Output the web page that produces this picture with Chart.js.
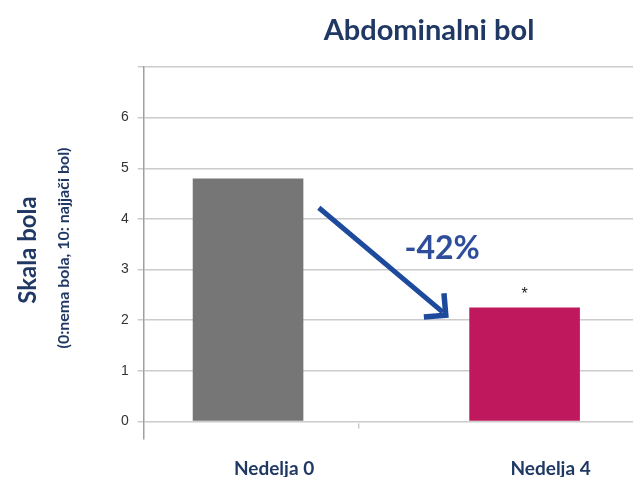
<!DOCTYPE html>
<html>
<head>
<meta charset="utf-8">
<script src="https://cdn.jsdelivr.net/npm/chart.js@4.4.0/dist/chart.umd.min.js"></script>
<style>
  html, body { margin: 0; padding: 0; background: #fff; }
  canvas { display: block; }
</style>
</head>
<body>
<canvas id="painChart" width="633" height="477"></canvas>
<script>
// Data
const weeks = ['Nedelja 0', 'Nedelja 4'];
const painScores = [4.8, 2.25];
const barColors = ['#767676', '#c0185c'];
const yTicks = [0, 1, 2, 3, 4, 5, 6, 7];

const titleText = 'Abdominalni bol';
const yTitle = 'Skala bola';
const ySubTitle = '(0:nema bola, 10: najjači bol)';
const changeLabel = '-42%';

const navy = '#1f3864';

// Extra drawing: title, axis titles, arrow, -42% and the asterisk
const annotations = {
  id: 'annotations',
  afterDraw(chart) {
    const ctx = chart.ctx;
    const x = chart.scales.x;
    const y = chart.scales.y;
    ctx.save();

    // title
    ctx.fillStyle = navy;
    ctx.font = 'bold 29px Lato';
    ctx.textAlign = 'center';
    ctx.textBaseline = 'middle';
    ctx.fillText(titleText, 429, 31);

    // y axis titles (rotated)
    ctx.save();
    ctx.translate(28, 250);
    ctx.rotate(-Math.PI / 2);
    ctx.font = 'bold 24px Lato';
    ctx.fillText(yTitle, 0, 0);
    ctx.restore();
    ctx.save();
    ctx.translate(64, 248);
    ctx.rotate(-Math.PI / 2);
    ctx.font = 'bold 16px Lato';
    ctx.fillText(ySubTitle, 0, 0);
    ctx.restore();

    // small separator tick under the axis
    ctx.strokeStyle = '#c8c8c8';
    ctx.lineWidth = 1.5;
    ctx.beginPath();
    ctx.moveTo(x.getPixelForValue(0.4), y.getPixelForValue(0) + 2);
    ctx.lineTo(x.getPixelForValue(0.4), y.getPixelForValue(0) + 7);
    ctx.stroke();

    // arrow from first bar down to second
    const x0 = x.getPixelForValue(0.256), y0 = y.getPixelForValue(4.22);
    const x1 = x.getPixelForValue(0.715), y1 = y.getPixelForValue(2.1);
    ctx.strokeStyle = '#1d4a9c';
    ctx.lineWidth = 5;
    ctx.lineCap = 'butt';
    ctx.beginPath();
    ctx.moveTo(x0, y0);
    ctx.lineTo(x1 - 3, y1 - 3);
    ctx.stroke();
    const ang = Math.atan2(y1 - y0, x1 - x0);
    const len = 22;
    ctx.lineWidth = 5.5;
    ctx.lineJoin = 'miter';
    ctx.beginPath();
    ctx.moveTo(x1 - len * Math.cos(ang - Math.PI / 4), y1 - len * Math.sin(ang - Math.PI / 4));
    ctx.lineTo(x1, y1);
    ctx.lineTo(x1 - len * Math.cos(ang + Math.PI / 4), y1 - len * Math.sin(ang + Math.PI / 4));
    ctx.stroke();

    // change label
    ctx.fillStyle = '#2e4d9b';
    ctx.font = 'bold 32px Lato';
    ctx.fillText(changeLabel, x.getPixelForValue(0.702), y.getPixelForValue(3.42));

    // significance mark
    ctx.fillStyle = '#222';
    ctx.font = '16px "Liberation Sans"';
    ctx.fillText('*', x.getPixelForValue(1), y.getPixelForValue(2.5));

    ctx.restore();
  }
};

new Chart(document.getElementById('painChart'), {
  type: 'bar',
  data: {
    datasets: [{
      data: painScores.map((v, i) => ({ x: i, y: v })),
      backgroundColor: barColors,
      borderWidth: 0,
      barPercentage: 0.4,
      categoryPercentage: 1
    }]
  },
  options: {
    responsive: false,
    animation: false,
    layout: { padding: { top: 67, left: 112, right: 0, bottom: -13 } },
    plugins: {
      legend: { display: false },
      tooltip: { enabled: false }
    },
    scales: {
      x: {
        type: 'linear',
        offset: false,
        min: -0.377,
        max: 1.392,
        afterBuildTicks: axis => { axis.ticks = weeks.map((w, i) => ({ value: i })); },
        ticks: {
          callback: v => weeks[v],
          labelOffset: 26,
          padding: 10,
          color: navy,
          font: { family: 'Lato', size: 19, weight: 'bold' }
        },
        grid: { display: false },
        border: { display: false }
      },
      y: {
        min: -0.35,
        max: 7,
        afterBuildTicks: axis => { axis.ticks = yTicks.map(v => ({ value: v })); },
        ticks: {
          callback: v => (v === 7 ? '' : v),
          padding: 9,
          color: '#333',
          font: { family: 'Liberation Sans', size: 14 }
        },
        grid: { color: '#cbcbcb', lineWidth: 1.5, tickLength: 6 },
        border: { color: '#a0a0a0', width: 1.5 }
      }
    }
  },
  plugins: [annotations]
});
</script>
</body>
</html>
